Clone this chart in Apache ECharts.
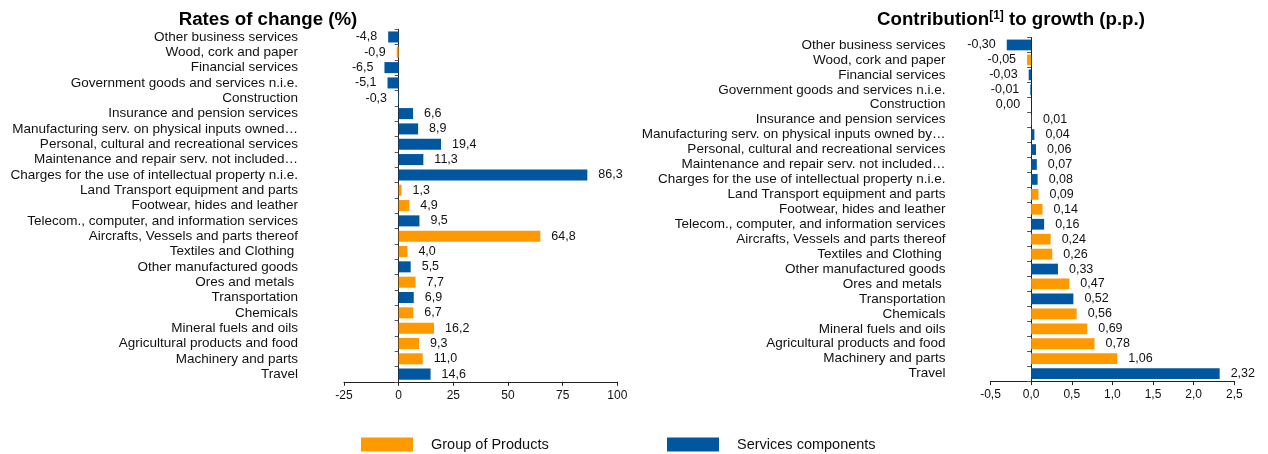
<!DOCTYPE html>
<html>
<head>
<meta charset="utf-8">
<script src="https://cdn.jsdelivr.net/npm/echarts@6/dist/echarts.min.js"></script>
<style>
html,body{margin:0;padding:0;background:#fff;}
#chart{width:1268px;height:454px;}
</style>
</head>
<body>
<div id="chart"></div>
<script>
// Categories, top to bottom
var categoriesLeft = [
  'Other business services',
  'Wood, cork and paper',
  'Financial services',
  'Government goods and services n.i.e.',
  'Construction',
  'Insurance and pension services',
  'Manufacturing serv. on physical inputs owned\u2026',
  'Personal, cultural and recreational services',
  'Maintenance and repair serv. not included\u2026',
  'Charges for the use of intellectual property n.i.e.',
  'Land Transport equipment and parts',
  'Footwear, hides and leather',
  'Telecom., computer, and information services',
  'Aircrafts, Vessels and parts thereof',
  'Textiles and Clothing ',
  'Other manufactured goods',
  'Ores and metals ',
  'Transportation',
  'Chemicals',
  'Mineral fuels and oils',
  'Agricultural products and food',
  'Machinery and parts',
  'Travel'
];
var categoriesRight = [
  'Other business services',
  'Wood, cork and paper',
  'Financial services',
  'Government goods and services n.i.e.',
  'Construction',
  'Insurance and pension services',
  'Manufacturing serv. on physical inputs owned by\u2026',
  'Personal, cultural and recreational services',
  'Maintenance and repair serv. not included\u2026',
  'Charges for the use of intellectual property n.i.e.',
  'Land Transport equipment and parts',
  'Footwear, hides and leather',
  'Telecom., computer, and information services',
  'Aircrafts, Vessels and parts thereof',
  'Textiles and Clothing ',
  'Other manufactured goods',
  'Ores and metals ',
  'Transportation',
  'Chemicals',
  'Mineral fuels and oils',
  'Agricultural products and food',
  'Machinery and parts',
  'Travel'
];
// P = Group of Products, S = Services components
var groupType = ['S','P','S','S','S','S','S','S','S','S','P','P','S','P','P','S','P','S','P','P','P','P','S'];
var ratesOfChange = [-4.8,-0.9,-6.5,-5.1,-0.3,6.6,8.9,19.4,11.3,86.3,1.3,4.9,9.5,64.8,4.0,5.5,7.7,6.9,6.7,16.2,9.3,11.0,14.6];
var contributions = [-0.30,-0.05,-0.03,-0.01,0.00,0.01,0.04,0.06,0.07,0.08,0.09,0.14,0.16,0.24,0.26,0.33,0.47,0.52,0.56,0.69,0.78,1.06,2.32];
var leftTicks = {min:-25, max:100, interval:25};
var rightTicks = {min:-0.5, max:2.5, interval:0.5};
var seriesNames = {P:'Group of Products', S:'Services components'};

var ORANGE = '#FF9900', BLUE = '#0057A0';
var FONT = "'Liberation Sans', Arial, sans-serif";

function seriesData(values, kind, decimals) {
  return values.map(function (v, i) {
    if (groupType[i] !== kind) return '-';
    return {
      value: v,
      label: {
        position: v <= 0 ? 'left' : 'right',
        formatter: v.toFixed(decimals).replace('.', ',')
      }
    };
  });
}

function makeSeries(values, kind, decimals, idx) {
  return {
    type: 'bar',
    name: seriesNames[kind],
    xAxisIndex: idx, yAxisIndex: idx,
    data: seriesData(values, kind, decimals),
    barGap: '-100%',
    barCategoryGap: '28%',
    itemStyle: {color: kind === 'P' ? ORANGE : BLUE},
    label: {show: true, distance: 11, fontSize: 12.5, color: '#111', fontFamily: FONT},
    emphasis: {disabled: true},
    animation: false
  };
}

function yAxisCfg(cats, gridIndex, margin) {
  return {
    type: 'category', gridIndex: gridIndex, data: cats, inverse: true,
    axisLine: {show: true, onZero: true, lineStyle: {color: '#222', width: 1}},
    axisTick: {show: true, length: 4, lineStyle: {color: '#555'}},
    axisLabel: {margin: margin, fontSize: 13.5, color: '#111', fontFamily: FONT, interval: 0, hideOverlap: false},
    splitLine: {show: false}
  };
}

function xAxisCfg(t, gridIndex, decimals) {
  return {
    type: 'value', gridIndex: gridIndex, min: t.min, max: t.max, interval: t.interval,
    axisLine: {show: true, onZero: false, lineStyle: {color: '#222', width: 1}},
    axisTick: {show: true, length: 4, lineStyle: {color: '#222'}},
    axisLabel: {
      fontSize: 12, color: '#111', fontFamily: FONT, margin: 8,
      formatter: function (v) { return v.toFixed(decimals).replace('.', ','); }
    },
    splitLine: {show: false}
  };
}

var chart = echarts.init(document.getElementById('chart'));
chart.setOption({
  backgroundColor: '#fff',
  animation: false,
  title: [
    {
      text: 'Rates of change (%)', left: 263, top: 5, textAlign: 'center',
      textStyle: {fontSize: 18.7, fontWeight: 'bold', color: '#000', fontFamily: FONT}
    },
    {
      text: '{a|Contribution}{s|[1]}{a| to growth (p.p.)}', left: 1006, top: 5, textAlign: 'center',
      textStyle: {
        fontSize: 18.7, fontWeight: 'bold', color: '#000', fontFamily: FONT,
        rich: {
          a: {fontSize: 18.7, fontWeight: 'bold', color: '#000', fontFamily: FONT},
          s: {fontSize: 12, fontWeight: 'bold', color: '#000', fontFamily: FONT, padding: [0, 0, 8, 0]}
        }
      }
    }
  ],
  legend: [
    {
      data: [{name: 'Group of Products', itemStyle: {color: ORANGE}}],
      left: 361, top: 437, padding: 0, itemWidth: 52, itemHeight: 14, icon: 'rect',
      selectedMode: false,
      textStyle: {fontSize: 14.5, color: '#111', fontFamily: FONT, padding: [0, 0, 0, 13]}
    },
    {
      data: [{name: 'Services components', itemStyle: {color: BLUE}}],
      left: 667, top: 437, padding: 0, itemWidth: 52, itemHeight: 14, icon: 'rect',
      selectedMode: false,
      textStyle: {fontSize: 14.5, color: '#111', fontFamily: FONT, padding: [0, 0, 0, 13]}
    }
  ],
  grid: [
    {left: 344, top: 29.3, width: 273.3, height: 352.5, containLabel: false, outerBoundsMode: 'none'},
    {left: 990.5, top: 37.5, width: 243.8, height: 343.6, containLabel: false, outerBoundsMode: 'none'}
  ],
  xAxis: [xAxisCfg(leftTicks, 0, 0), xAxisCfg(rightTicks, 1, 1)],
  yAxis: [yAxisCfg(categoriesLeft, 0, 46), yAxisCfg(categoriesRight, 1, 45)],
  series: [
    makeSeries(ratesOfChange, 'P', 1, 0),
    makeSeries(ratesOfChange, 'S', 1, 0),
    makeSeries(contributions, 'P', 2, 1),
    makeSeries(contributions, 'S', 2, 1)
  ]
});
</script>
</body>
</html>
